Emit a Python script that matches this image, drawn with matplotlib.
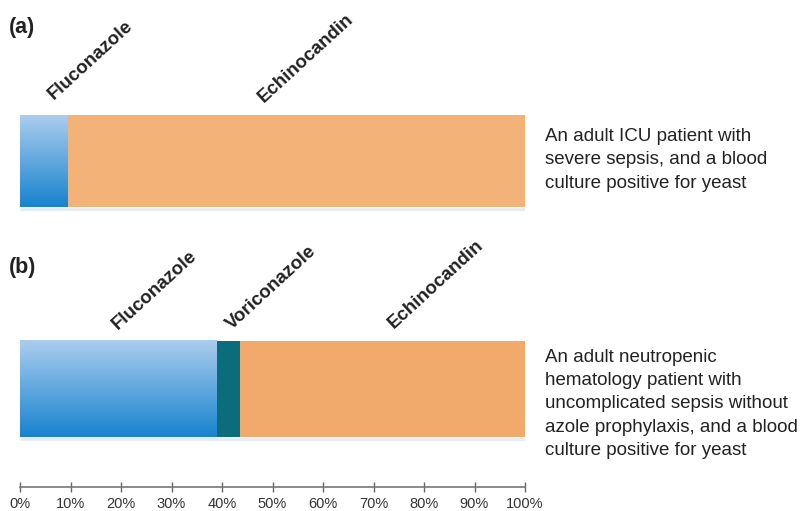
#!/usr/bin/env python3
"""
Preferred antifungal choice for two clinical scenarios (stacked 100% bars).
"""

import matplotlib.pyplot as plt
import numpy as np
from matplotlib.colors import to_rgb

# Data
panel_labels = ['(a)', '(b)']
scenarios = [
    'An adult ICU patient with\nsevere sepsis, and a blood\nculture positive for yeast',
    'An adult neutropenic\nhematology patient with\nuncomplicated sepsis without\n'
    'azole prophylaxis, and a blood\nculture positive for yeast',
]
drugs_a = ['Fluconazole', 'Echinocandin']
shares_a = [9.5, 90.5]
drugs_b = ['Fluconazole', 'Voriconazole', 'Echinocandin']
shares_b = [39.0, 4.5, 56.5]
tick_values = [0, 10, 20, 30, 40, 50, 60, 70, 80, 90, 100]
tick_labels = [f'{v}%' for v in tick_values]

# Styling
COLORS = {'Fluconazole': '#4f9ad8', 'Voriconazole': '#0b6d7b', 'Echinocandin': '#f1aa6c'}
ECHINO_A = '#f3b277'
BLUE_TOP, BLUE_BOTTOM = '#aacdee', '#1883cf'
TEXT = '#222222'

W, H = 802, 511
fig = plt.figure(figsize=(W / 100, H / 100), dpi=100)
fig.patch.set_facecolor('white')

# axes: x in percent, y in pixel rows (top = 0)
ax = fig.add_axes([20 / W, (H - 487) / H, 505 / W, 487 / H])
ax.set_xlim(0, 100)
ax.set_ylim(487, 0)
ax.set_facecolor('none')

rows = [(161, 92, drugs_a, shares_a), (389, 96, drugs_b, shares_b)]
label_pos = [
    [(13.9, 60), (56.7, 58)],
    [(26.7, 290), (49.7, 288), (82.4, 284)],
]

grad = np.linspace(0, 1, 64)[:, None, None]
grad_img = (1 - grad) * np.array(to_rgb(BLUE_TOP)) + grad * np.array(to_rgb(BLUE_BOTTOM))

for i, (yc, h, drugs, shares) in enumerate(rows):
    left = 0.0
    for drug, val in zip(drugs, shares):
        color = COLORS[drug]
        if drug == 'Echinocandin' and i == 0:
            color = ECHINO_A
        bar = ax.barh(yc, val, left=left, height=h, color=color, linewidth=0)[0]
        if drug == 'Fluconazole':
            x0, y0 = bar.get_x(), bar.get_y()
            ax.imshow(grad_img, extent=(x0, x0 + bar.get_width(), y0 + h, y0),
                      aspect='auto', origin='upper', zorder=3)
        left += val
    # faint shadow under the bar
    ax.hlines(yc + h / 2 + 1.5, 0, left, color='#e6edf3', linewidth=2.2, zorder=1)

    for drug, (lx, ly) in zip(drugs, label_pos[i]):
        ax.text(lx, ly, drug, rotation=42.5, ha='center', va='center',
                fontsize=13.5, fontweight='bold', color=TEXT, family='Liberation Sans',
                rotation_mode='anchor')

ax.set_xlim(0, 100)
ax.set_ylim(487, 0)

# panel letters and scenario descriptions
fig.text(9 / W, 1 - 28 / H, panel_labels[0], fontsize=15.5, fontweight='bold',
         color=TEXT, va='center', family='Liberation Sans')
fig.text(9 / W, 1 - 268 / H, panel_labels[1], fontsize=15.5, fontweight='bold',
         color=TEXT, va='center', family='Liberation Sans')
for desc, yc in zip(scenarios, [160, 404]):
    fig.text(545 / W, 1 - yc / H, desc, fontsize=13.5, color=TEXT, va='center',
             ha='left', linespacing=1.48, family='Liberation Sans')

# x axis
ax.set_xticks(tick_values)
ax.set_xticklabels(tick_labels, family='Liberation Sans', fontsize=10.5, color='#333333')
ax.tick_params(axis='x', direction='inout', length=7, width=1, color='#666666', pad=4)
ax.set_yticks([])
for side in ['top', 'right', 'left']:
    ax.spines[side].set_visible(False)
ax.spines['bottom'].set_color('#777777')
ax.spines['bottom'].set_linewidth(1.2)

plt.savefig('out.png', dpi=100, facecolor='white')
plt.close()
